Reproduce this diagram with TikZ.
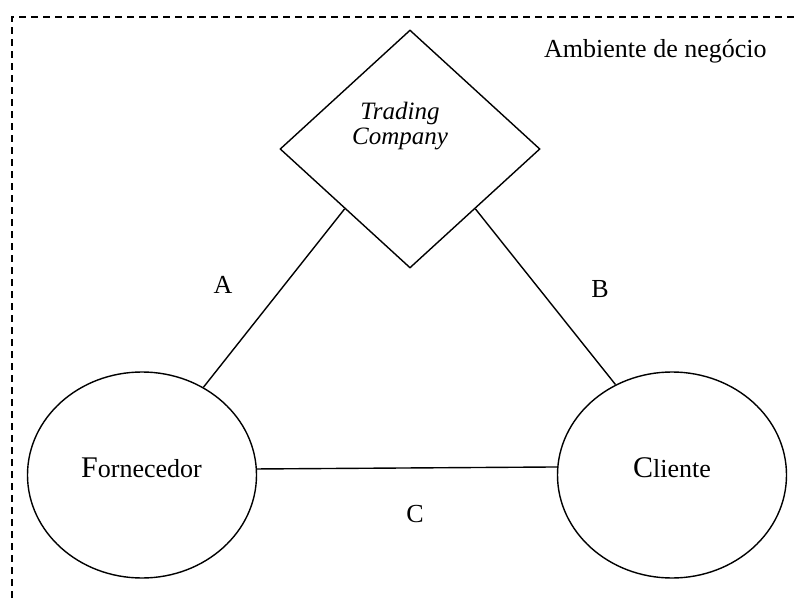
\documentclass[tikz,border=0pt]{standalone}
\usepackage{fontspec}
\setmainfont{Liberation Serif}
\usetikzlibrary{shapes.geometric}
\tikzset{
  shapeline/.style={draw=black, line width=1.4pt},
  frameline/.style={draw=black, line width=1.4pt, dash pattern=on 7pt off 5pt},
  txt/.style={inner sep=0pt, font=\fontsize{26}{30}\selectfont},
  itxt/.style={inner sep=0pt, font=\fontsize{25}{25}\selectfont\itshape},
  link/.style={draw=black, line width=1.4pt}
}
\newcommand{\bigfirst}[1]{{\fontsize{30}{30}\selectfont #1}}
\begin{document}
\begin{tikzpicture}[x=1pt,y=1pt]
\useasboundingbox (0,0) rectangle (797,598);
% frame
\draw[frameline] (12,0) -- (12,581) -- (800,581);
\node[txt, anchor=base west] (amb) at (544,540) {Ambiente de negócio};
% diamond
\node[shapeline, diamond, inner sep=0pt, minimum width=260pt, minimum height=238pt] (tc) at (410,449) {};
\node[itxt, anchor=base] (tc1) at (400,478) {Trading};
\node[itxt, anchor=base] (tc2) at (400,453) {Company};
% ellipses
\node[shapeline, ellipse, inner sep=0pt, minimum width=229pt, minimum height=206pt] (f) at (142,123) {};
\node[shapeline, ellipse, inner sep=0pt, minimum width=229pt, minimum height=206pt] (c) at (672,123) {};
\node[txt, anchor=base west] (ft) at (81,121) {\bigfirst{F}ornecedor};
\node[txt, anchor=base west] (ct) at (633,121) {\bigfirst{C}liente};
% connectors
\draw[link] (tc.south west) -- (f.55);
\draw[link] (tc.south east) -- (c.122);
\draw[link] (f.3.5) -- (c.176.5);
% labels
\node[txt, anchor=base] (la) at (223,305) {A};
\node[txt, anchor=base] (lb) at (600,301) {B};
\node[txt, anchor=base] (lc) at (415,76) {C};
\end{tikzpicture}
\end{document}
